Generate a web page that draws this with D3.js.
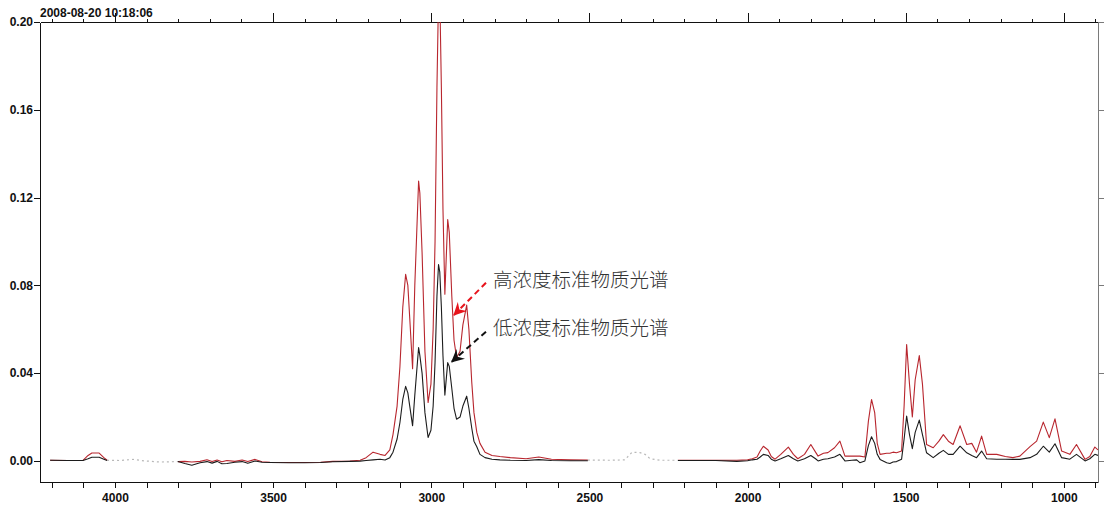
<!DOCTYPE html>
<meta charset="utf-8">
<style>

body {
  margin: 0;
  background: #fff;
}

.axis text {
  font: bold 12px "Liberation Sans", Arial, sans-serif;
  fill: #111;
}

.axis path, .axis line {
  stroke: #111;
  shape-rendering: crispEdges;
}

.stamp {
  font: bold 12px "Liberation Sans", Arial, sans-serif;
  fill: #111;
}

.note {
  font-family: "Noto Sans CJK SC", sans-serif;
  font-size: 19.5px;
  font-weight: 300;
  fill: #333;
}

</style>
<svg width="1105" height="511"></svg>
<script src="https://d3js.org/d3.v7.min.js"></script>
<script>

// wavenumbers (cm-1), null value = gap in the measured spectrum
var wavenumber = [
  4205, 4150, 4101, 4085, 4073, 4050, 4035, 4025,
  3912,
  3801, 3779, 3757, 3731, 3709, 3693, 3677, 3662, 3646, 3621, 3598, 3580, 3557, 3535, 3510,
  3450, 3400, 3350, 3311, 3257, 3225, 3206, 3184, 3162, 3146, 3131, 3121, 3108, 3099, 3090,
  3081, 3074, 3068, 3059, 3052, 3040, 3036, 3029, 3020, 3010, 3001, 2994, 2988, 2982, 2977,
  2973, 2968, 2963, 2957, 2948, 2943, 2935, 2928, 2920, 2909, 2900, 2888, 2881, 2872, 2865,
  2856, 2846, 2830, 2808, 2783, 2750, 2700, 2660, 2620, 2560, 2505,
  2360,
  2220, 2100, 2034, 2000, 1985, 1970, 1960, 1950, 1935, 1925, 1913, 1895, 1871, 1855, 1841,
  1820, 1800, 1785, 1777, 1760, 1746, 1725, 1708, 1692, 1670, 1655, 1645, 1629, 1618, 1608,
  1598, 1590, 1581, 1560, 1550, 1540, 1529, 1513, 1505, 1497, 1488, 1479, 1470, 1457, 1447,
  1434, 1413, 1395, 1381, 1365, 1350, 1328, 1307, 1291, 1276, 1260, 1244, 1212, 1185, 1161,
  1139, 1107, 1086, 1065, 1046, 1028, 1007, 981, 960, 933, 918, 902, 892
];

// high concentration standard (red)
var highConc = [
  0.0003, 0.0002, 0.0003, 0.0025, 0.0036, 0.0036, 0.0015, 0.0003,
  null,
  -0.0003, -0.0002, -0.0005, -0.0002, 0.0005, -0.0003, 0.0004, -0.0004, 0.0002, -0.0002, 0.0004, -0.0003, 0.0007, -0.0004, -0.0006,
  -0.0007, -0.0007, -0.0006, -0.0002, 0.0000, 0.0003, 0.0015, 0.0040, 0.0030, 0.0025, 0.0050, 0.012, 0.025, 0.043, 0.070,
  0.085, 0.080, 0.065, 0.042, 0.080, 0.1275, 0.122, 0.095, 0.050, 0.0266, 0.035, 0.060, 0.100, 0.170, 0.212,
  0.212, 0.170, 0.115, 0.076, 0.110, 0.104, 0.075, 0.055, 0.047, 0.050, 0.062, 0.071, 0.060, 0.036, 0.022,
  0.013, 0.008, 0.004, 0.0025, 0.0020, 0.0015, 0.0010, 0.0018, 0.0008, 0.0005, 0.0004,
  null,
  0.0003, 0.0003, 0.0003, 0.0005, 0.0010, 0.0018, 0.0045, 0.0067, 0.0050, 0.0020, 0.0008, 0.0030, 0.0063, 0.0030, 0.0010,
  0.0030, 0.0075, 0.0040, 0.0022, 0.0035, 0.0038, 0.0060, 0.0090, 0.0022, 0.0022, 0.0022, 0.0022, 0.0018, 0.0180, 0.0280,
  0.0220, 0.0080, 0.0030, 0.0035, 0.0035, 0.0040, 0.0037, 0.0045, 0.0250, 0.0530, 0.0350, 0.0200, 0.0370, 0.0480, 0.0350,
  0.0075, 0.0060, 0.0090, 0.0120, 0.0090, 0.0075, 0.0160, 0.0075, 0.0080, 0.0040, 0.0113, 0.0030, 0.0030, 0.0020, 0.0015,
  0.0022, 0.0065, 0.0090, 0.0177, 0.0106, 0.0192, 0.0045, 0.0030, 0.0075, 0.0007, 0.0020, 0.0063, 0.0050
];

// low concentration standard (black)
var lowConc = [
  0.0003, 0.0002, 0.0002, 0.0010, 0.0017, 0.0017, 0.0008, 0.0002,
  null,
  -0.0003, -0.0012, -0.0020, -0.0008, -0.0003, -0.0010, -0.0002, -0.0013, -0.0012, -0.0006, -0.0003, -0.0011, 0.0000, -0.0006, -0.0007,
  -0.0008, -0.0008, -0.0007, -0.0004, -0.0002, -0.0001, 0.0002, 0.0005, 0.0008, 0.0004, 0.0015, 0.004, 0.010, 0.0175, 0.028,
  0.034, 0.031, 0.025, 0.016, 0.030, 0.0517, 0.048, 0.040, 0.022, 0.0107, 0.014, 0.025, 0.045, 0.075, 0.0895,
  0.086, 0.070, 0.048, 0.030, 0.0448, 0.043, 0.033, 0.024, 0.019, 0.020, 0.025, 0.0295, 0.024, 0.015, 0.009,
  0.0065, 0.003, 0.0015, 0.0008, 0.0005, 0.0003, 0.0002, 0.0006, 0.0002, 0.0001, 0.0001,
  null,
  0.0002, 0.0002, -0.0002, 0.0001, 0.0005, 0.0008, 0.0018, 0.0030, 0.0025, 0.0008, 0.0000, 0.0010, 0.0025, 0.0010, 0.0000,
  0.0010, 0.0025, 0.0010, 0.0000, 0.0008, 0.0010, 0.0018, 0.0030, 0.0000, 0.0003, 0.0005, -0.0008, 0.0000, 0.0070, 0.0110,
  0.0080, 0.0030, 0.0007, -0.0008, -0.0012, -0.0005, -0.0003, 0.0008, 0.0100, 0.0204, 0.0120, 0.0056, 0.0130, 0.0186, 0.0120,
  0.0037, 0.0015, 0.0035, 0.0048, 0.0030, 0.0030, 0.0067, 0.0037, 0.0025, 0.0015, 0.0045, 0.0010, 0.0008, 0.0008, 0.0007,
  0.0007, 0.0015, 0.0030, 0.0067, 0.0040, 0.0078, 0.0015, 0.0008, 0.0030, 0.0000, 0.0010, 0.0030, 0.0025
];

// excluded regions (grey dotted)
var gapWn  = [4025, 3984, 3943, 3905, 3858, 3801, 3000, 2505, 2435, 2388, 2365, 2340, 2324, 2308, 2277, 2220];
var gapVal = [0.0003, 0.0002, 0.0007, 0.0000, -0.0005, -0.0003, null, 0.0004, 0.0003, 0.0005, 0.0040, 0.0038, 0.0030, 0.0010, 0.0003, 0.0003];

var yTicks = [0, 0.04, 0.08, 0.12, 0.16, 0.20];
var xMinor = d3.range(4200, 850, -100);
var xMajor = [4000, 3500, 3000, 2500, 2000, 1500, 1000];

var noteText = ["高浓度标准物质光谱", "低浓度标准物质光谱"];
var noteColor = ["#e8141c", "#111"];
var noteFrom = [[2827, 0.0812], [2827, 0.0589]];
var noteTip = [[2928, 0.0665], [2935, 0.0452]];
var noteAt = [[2805, 0.0829], [2805, 0.0612]];

var svg = d3.select("svg"),
    margin = {top: 22, right: 7, bottom: 29, left: 40},
    width = +svg.attr("width") - margin.left - margin.right,
    height = +svg.attr("height") - margin.top - margin.bottom,
    g = svg.append("g").attr("transform", "translate(" + margin.left + "," + margin.top + ")");

var x = d3.scaleLinear().domain([4237, 892]).range([0, width]);
var y = d3.scaleLinear().domain([-0.0096, 0.2]).range([height, 0]);

svg.append("defs").append("clipPath").attr("id", "clip")
  .append("rect").attr("width", width).attr("height", height);

// axes
g.append("g").attr("class", "axis")
    .attr("transform", "translate(0," + height + ")")
    .call(d3.axisBottom(x).tickValues(xMinor).tickSize(6).tickSizeOuter(0).tickPadding(5)
      .tickFormat(function(d) { return xMajor.indexOf(d) >= 0 ? d : ""; }));

g.append("g").attr("class", "axis")
    .call(d3.axisTop(x).tickValues(xMinor).tickSizeOuter(0).tickFormat(""))
  .selectAll(".tick line")
    .attr("y2", function(d) { return xMajor.indexOf(d) >= 0 ? -9 : -3; });

g.append("g").attr("class", "axis")
    .call(d3.axisLeft(y).tickValues(yTicks).tickSize(6).tickSizeOuter(0).tickPadding(1)
      .tickFormat(d3.format(".2f")));

var right = g.append("g").attr("class", "axis")
    .attr("transform", "translate(" + width + ",0)")
    .call(d3.axisRight(y).tickValues(yTicks).tickSize(6).tickSizeOuter(0).tickFormat(""));
right.selectAll("path, line").style("stroke", "#7a7a7a");

svg.append("text").attr("class", "stamp")
    .attr("x", margin.left).attr("y", 16.5)
    .text("2008-08-20 10:18:06");

// spectra
var plot = g.append("g").attr("clip-path", "url(#clip)");

function lineFor(vals) {
  return d3.line()
    .defined(function(d, i) { return vals[i] != null; })
    .x(function(d, i) { return x(wavenumber[i]); })
    .y(function(d, i) { return y(vals[i]); })(wavenumber);
}

plot.append("path")
    .attr("d", d3.line()
      .defined(function(d, i) { return gapVal[i] != null; })
      .x(function(d) { return x(d); })
      .y(function(d, i) { return y(gapVal[i]); })(gapWn))
    .attr("fill", "none")
    .attr("stroke", "#b8b8b8")
    .attr("stroke-width", 1.2)
    .attr("stroke-dasharray", "2,3");

plot.append("path")
    .attr("d", lineFor(highConc))
    .attr("fill", "none")
    .attr("stroke", "#b8262e")
    .attr("stroke-width", 1.1)
    .attr("stroke-linejoin", "round");

plot.append("path")
    .attr("d", lineFor(lowConc))
    .attr("fill", "none")
    .attr("stroke", "#1c1c1c")
    .attr("stroke-width", 1.1)
    .attr("stroke-linejoin", "round");

// annotations
var defs = svg.select("defs");
noteColor.forEach(function(c, i) {
  defs.append("marker")
      .attr("id", "arrow" + i)
      .attr("viewBox", "0 0 12 12")
      .attr("refX", 11).attr("refY", 6)
      .attr("markerWidth", 13).attr("markerHeight", 13)
      .attr("markerUnits", "userSpaceOnUse")
      .attr("orient", "auto")
    .append("path")
      .attr("d", "M0,0 L12,6 L0,12 L4,6 Z")
      .attr("fill", c);
});

noteText.forEach(function(t, i) {
  g.append("line")
      .attr("x1", x(noteFrom[i][0])).attr("y1", y(noteFrom[i][1]))
      .attr("x2", x(noteTip[i][0])).attr("y2", y(noteTip[i][1]))
      .attr("stroke", noteColor[i])
      .attr("stroke-width", 2)
      .attr("stroke-dasharray", "6,4")
      .attr("marker-end", "url(#arrow" + i + ")");

  g.append("text").attr("class", "note")
      .attr("x", x(noteAt[i][0])).attr("y", y(noteAt[i][1]))
      .attr("dominant-baseline", "central")
      .text(t);
});

</script>
